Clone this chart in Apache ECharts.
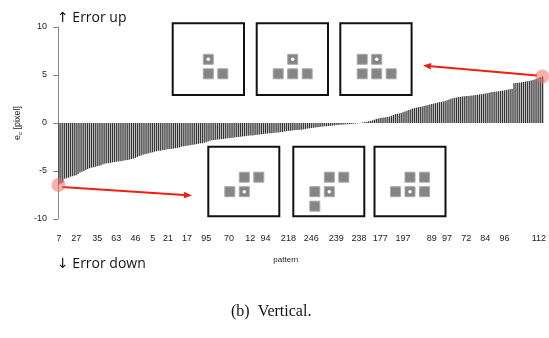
<!DOCTYPE html>
<html>
<head>
<meta charset="utf-8">
<script src="https://cdn.jsdelivr.net/npm/echarts@6/dist/echarts.min.js"></script>
<style>
  html, body { margin: 0; padding: 0; background: #fff; }
  #chart { width: 549px; height: 338px; }
</style>
</head>
<body>
<div id="chart"></div>
<script>
// Vertical error e_c per pattern, sorted ascending (one bar per pattern rank)
const errorValues = [
  -6.4, -6.3, -6.2, -5.8, -5.75, -5.7, -5.6, -5.55, -5.5, -5.45,
  -5.3, -5.15, -5.08, -5.0, -4.9, -4.8, -4.7, -4.65, -4.6, -4.55,
  -4.5, -4.45, -4.4, -4.3, -4.25, -4.2, -4.18, -4.15, -4.1, -4.07,
  -4.04, -4.0, -3.98, -3.95, -3.9, -3.87, -3.85, -3.8, -3.75, -3.7,
  -3.63, -3.55, -3.45, -3.38, -3.3, -3.25, -3.2, -3.15, -3.1, -3.05,
  -2.98, -2.94, -2.9, -2.88, -2.85, -2.8, -2.77, -2.74, -2.7, -2.68,
  -2.65, -2.62, -2.6, -2.55, -2.48, -2.42, -2.4, -2.38, -2.34, -2.3,
  -2.27, -2.25, -2.2, -2.16, -2.12, -2.1, -2.07, -2.0, -1.92, -1.85,
  -1.8, -1.77, -1.75, -1.73, -1.7, -1.68, -1.66, -1.63, -1.6, -1.58,
  -1.56, -1.53, -1.5, -1.47, -1.45, -1.42, -1.4, -1.38, -1.36, -1.33,
  -1.31, -1.3, -1.28, -1.25, -1.22, -1.2, -1.17, -1.14, -1.12, -1.1,
  -1.08, -1.06, -1.04, -1.02, -1.0, -0.98, -0.95, -0.93, -0.88, -0.84,
  -0.82, -0.8, -0.78, -0.76, -0.74, -0.72, -0.71, -0.7, -0.66, -0.62,
  -0.58, -0.55, -0.52, -0.5, -0.48, -0.45, -0.42, -0.4, -0.37, -0.35,
  -0.33, -0.31, -0.29, -0.27, -0.25, -0.22, -0.2, -0.19, -0.17, -0.16,
  -0.14, -0.12, -0.11, -0.1, -0.08, -0.06, -0.04, -0.02, 0.02, 0.05,
  0.1, 0.14, 0.17, 0.22, 0.28, 0.35, 0.42, 0.48, 0.52, 0.55,
  0.58, 0.6, 0.62, 0.68, 0.75, 0.85, 0.93, 0.97, 1.0, 1.04,
  1.12, 1.2, 1.28, 1.35, 1.42, 1.5, 1.55, 1.6, 1.65, 1.69,
  1.72, 1.76, 1.82, 1.88, 1.93, 1.97, 2.02, 2.07, 2.12, 2.17,
  2.2, 2.24, 2.3, 2.38, 2.46, 2.53, 2.59, 2.62, 2.66, 2.7,
  2.73, 2.76, 2.78, 2.8, 2.82, 2.84, 2.86, 2.88, 2.91, 2.94,
  2.97, 3.0, 3.03, 3.06, 3.1, 3.14, 3.2, 3.23, 3.26, 3.29,
  3.32, 3.35, 3.37, 3.4, 3.44, 3.48, 3.52, 3.55, 4.14, 4.17,
  4.2, 4.23, 4.25, 4.28, 4.31, 4.34, 4.38, 4.43, 4.49, 4.55,
  4.6, 4.72, 4.8, 4.85
];

// Pattern ids shown under the axis, and the rank at which each one sits
const labelRanks = [0, 9, 20, 30, 40, 49, 57, 67, 77, 89, 100, 108,
  120, 132, 145, 157, 168, 180, 195, 203, 213, 223, 233, 251];
const labelPatterns = ['7', '27', '35', '63', '46', '5', '21', '17', '95', '70', '12', '94',
  '218', '246', '239', '238', '177', '197', '89', '97', '72', '84', '96', '112'];

// Y axis ticks
const yMin = -10, yMax = 10, yStep = 5;

const ranks = errorValues.map((_, i) => String(i));
const labelAt = {};
labelRanks.forEach((r, k) => { labelAt[r] = labelPatterns[k]; });

// Neighbourhood sketches: cell offsets around the centre pixel (0,0)
const insets = [
  { box: [172.7, 23.3, 71.3, 71.7], c: [208.3, 59.3], cells: [[0,0],[0,1],[1,1]] },
  { box: [256.7, 23.3, 71.3, 71.7], c: [292.7, 59.3], cells: [[0,0],[-1,1],[0,1],[1,1]] },
  { box: [340.3, 23.3, 71.3, 71.7], c: [376.7, 59.3], cells: [[-1,0],[0,0],[-1,1],[0,1],[1,1]] },
  { box: [208.3, 146.7, 71, 69.5], c: [244.3, 191.7], cells: [[0,-1],[1,-1],[-1,0],[0,0]] },
  { box: [293.3, 146.7, 71, 69.5], c: [329.3, 191.7], cells: [[0,-1],[1,-1],[-1,0],[0,0],[-1,1]] },
  { box: [374.5, 146.7, 71, 69.5], c: [410.0, 191.7], cells: [[0,-1],[1,-1],[-1,0],[0,0],[1,0]] }
];

const chart = echarts.init(document.getElementById('chart'), null, { renderer: 'canvas' });

const graphics = [];
const pitch = 14.5, cell = 10;
insets.forEach(ins => {
  const [bx, by, bw, bh] = ins.box;
  graphics.push({
    type: 'rect', z: 10,
    shape: { x: bx, y: by, width: bw, height: bh },
    style: { fill: '#fff', stroke: '#111', lineWidth: 2 }
  });
  ins.cells.forEach(([dx, dy]) => {
    const cx = ins.c[0] + dx * pitch, cy = ins.c[1] + dy * pitch;
    graphics.push({
      type: 'rect', z: 11,
      shape: { x: cx - cell / 2, y: cy - cell / 2, width: cell, height: cell },
      style: { fill: '#858585', stroke: '#a8a8a8', lineWidth: 1 }
    });
    if (dx === 0 && dy === 0) {
      graphics.push({
        type: 'circle', z: 12,
        shape: { cx: cx, cy: cy, r: 1.8 },
        style: { fill: '#fff' }
      });
    }
  });
});

// Red call-out arrows
function arrow(x1, y1, x2, y2) {
  const ang = Math.atan2(y2 - y1, x2 - x1);
  const L = 8, W = 3.2;
  const bx = x2 - L * Math.cos(ang), by = y2 - L * Math.sin(ang);
  const px = -Math.sin(ang) * W, py = Math.cos(ang) * W;
  graphics.push({
    type: 'line', z: 13,
    shape: { x1: x1, y1: y1, x2: bx, y2: by },
    style: { stroke: '#ee2011', lineWidth: 2 }
  });
  graphics.push({
    type: 'polygon', z: 13,
    shape: { points: [[x2, y2], [bx + px, by + py], [bx - px, by - py]] },
    style: { fill: '#ee2011' }
  });
}
arrow(62, 187, 192, 195.5);
arrow(537, 75.5, 423, 65.5);

// Highlight discs at both ends of the sorted series
graphics.push({ type: 'circle', z: 14, shape: { cx: 58.5, cy: 185, r: 7 },
  style: { fill: 'rgba(238,110,100,0.55)' } });
graphics.push({ type: 'circle', z: 14, shape: { cx: 542.3, cy: 76.5, r: 7 },
  style: { fill: 'rgba(238,110,100,0.55)' } });

// Direction notes
graphics.push({ type: 'text', left: 57, top: 11,
  style: { text: '↑ Error up', font: '14px "Open Sans", "DejaVu Sans", sans-serif', fill: '#111' } });
graphics.push({ type: 'text', left: 57, top: 257,
  style: { text: '↓ Error down', font: '14px "Open Sans", "DejaVu Sans", sans-serif', fill: '#111' } });
// Sub-figure caption
graphics.push({ type: 'text', left: 231, top: 304,
  style: { text: '(b)  Vertical.', font: '16px "Liberation Serif", "Times New Roman", serif', fill: '#111' } });

chart.setOption({
  animation: false,
  grid: { left: 58, right: 2, top: 27, bottom: 119, containLabel: false },
  xAxis: {
    type: 'category',
    data: ranks,
    name: 'pattern',
    nameLocation: 'middle',
    nameGap: 37,
    nameTextStyle: { fontFamily: 'Liberation Sans', fontSize: 8, color: '#222', padding: [0, 30, 0, 0] },
    axisLine: { show: false, onZero: false },
    axisTick: { show: false },
    axisLabel: {
      interval: (i) => labelAt[i] !== undefined,
      formatter: (v) => labelAt[v] || '',
      margin: 15,
      fontFamily: 'Liberation Sans', fontSize: 9, color: '#222',
      hideOverlap: false
    },
    splitLine: { show: false }
  },
  yAxis: {
    type: 'value',
    min: yMin, max: yMax, interval: yStep,
    name: '{e|e}{s|c}{n| [pixel]}',
    nameLocation: 'middle',
    nameRotate: 90,
    nameGap: 35,
    nameTextStyle: {
      rich: {
        e: { fontFamily: 'Liberation Sans', fontSize: 9, color: '#222' },
        s: { fontFamily: 'Liberation Sans', fontSize: 6, color: '#222', verticalAlign: 'bottom', padding: [4, 0, 0, 0] },
        n: { fontFamily: 'Liberation Sans', fontSize: 9, color: '#222' }
      }
    },
    axisLine: { show: true, lineStyle: { color: '#888', width: 1 } },
    axisTick: { show: true, length: 5, lineStyle: { color: '#888' } },
    axisLabel: { margin: 11, fontFamily: 'Liberation Sans', fontSize: 9, color: '#222' },
    splitLine: { show: false }
  },
  series: [{
    type: 'bar',
    data: errorValues,
    barWidth: '65%',
    itemStyle: { color: '#333' },
    silent: true
  }],
  graphic: graphics
});
</script>
</body>
</html>
